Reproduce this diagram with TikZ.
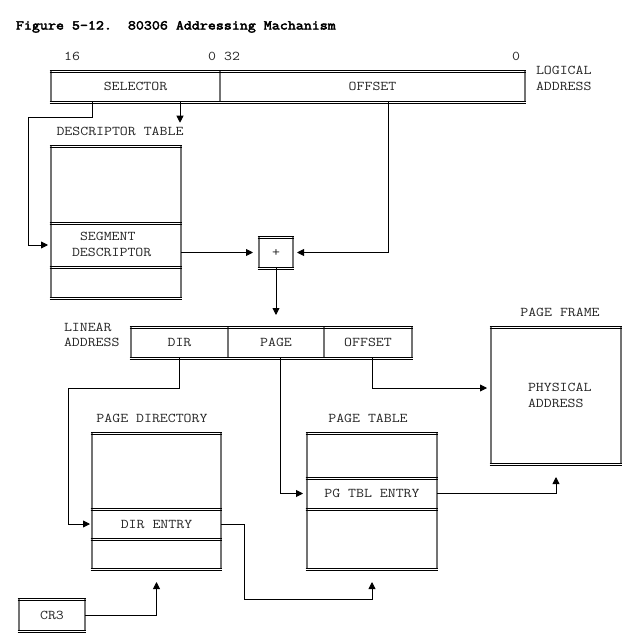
\documentclass[tikz,border=0pt]{standalone}
\usepackage{fontspec}
\newfontfamily\boxfont{Latin Modern Mono}[FakeStretch=1.15]
\newfontfamily\headfont{Latin Modern Mono}[FakeStretch=1.15, FakeBold=3.2]
\usetikzlibrary{arrows.meta}

\begin{document}
\begin{tikzpicture}[x=1pt, y=-1pt,
  every node/.style={font=\boxfont\fontsize{13.4}{15.3}\selectfont, text=black!85, inner sep=0pt, outer sep=0pt},
  cell/.style={draw=none, anchor=north west, minimum width=#1},
  cell/.default=100,
  label/.style={anchor=center},
  edgev/.style={draw=black!55, line width=2.8pt},
  edgeh/.style={draw=black, line width=0.8pt},
  wire/.style={draw=black, line width=0.9pt},
  arr/.style={wire, -{Triangle[length=7pt, width=7pt]}},
]
\fill[white] (0,0) rectangle (632,640);
\useasboundingbox (0,0) rectangle (632,640);

% title
\node[anchor=base west, font=\headfont\fontsize{13.5}{15.3}\selectfont, text=black] (title) at (16,29.5)
  {Figure 5-12.\ \ 80306 Addressing Machanism};

% bit positions
\node[label] (b16) at (72,56) {16};
\node[label] (b0a) at (212,56) {0};
\node[label] (b32) at (232,56) {32};
\node[label] (b0b) at (516,56) {0};

% logical address
\node[cell=169, minimum height=31] (sel) at (51,71) {SELECTOR};
\node[cell=305, minimum height=31] (off) at (220,71) {OFFSET};
\node[label, align=left, anchor=west] (logical) at (536,78.5) {LOGICAL\\ADDRESS};

% descriptor table
\node[label] (dtlabel) at (120,131) {DESCRIPTOR TABLE};
\node[cell=130, minimum height=77] (dt1) at (51,146) {};
\node[cell=130, minimum height=44] (seg) at (51,223) {};
\node[label, align=left, anchor=west] (segtext) at (72,244.5) {\hspace{8pt}SEGMENT\\DESCRIPTOR};
\node[cell=130, minimum height=31] (dt3) at (51,267) {};

% adder
\node[cell=34, minimum height=31] (plus) at (259,237) {+};

% linear address
\node[label, align=left, anchor=west] (linear) at (64,335) {LINEAR\\ADDRESS};
\node[cell=97, minimum height=31] (dir) at (131,327) {DIR};
\node[cell=96, minimum height=31] (page) at (228,327) {PAGE};
\node[cell=88, minimum height=31] (loff) at (324,327) {OFFSET};

% page directory
\node[label] (pdlabel) at (152,418) {PAGE DIRECTORY};
\node[cell=129, minimum height=76] (pd1) at (92,433) {};
\node[cell=129, minimum height=30] (dirent) at (92,509) {DIR ENTRY};
\node[cell=129, minimum height=30] (pd3) at (92,539) {};

% page table
\node[label] (ptlabel) at (368,418) {PAGE TABLE};
\node[cell=130, minimum height=45] (pt1) at (307,433) {};
\node[cell=130, minimum height=31] (ptent) at (307,478) {PG TBL ENTRY};
\node[cell=130, minimum height=60] (pt3) at (307,509) {};

% page frame
\node[label] (pflabel) at (560,312) {PAGE FRAME};
\node[cell=130, minimum height=137] (frame) at (491,327) {};
\node[label, align=left, anchor=west] (phys) at (528,395.5) {PHYSICAL\\ADDRESS};

% control register
\node[cell=66, minimum height=32] (cr3) at (19,599) {CR3};

% box borders: grey sides, paired thin rules top and bottom
\foreach \n in {sel,off,dt1,seg,dt3,plus,dir,page,loff,pd1,dirent,pd3,pt1,ptent,pt3,frame,cr3} {
  \draw[edgev] (\n.north west) -- (\n.south west) (\n.north east) -- (\n.south east);
  \draw[edgeh] ([xshift=-1.4pt, yshift=1.1pt]\n.north west) -- ([xshift=1.4pt, yshift=1.1pt]\n.north east)
               ([xshift=-1.4pt, yshift=-1.1pt]\n.north west) -- ([xshift=1.4pt, yshift=-1.1pt]\n.north east)
               ([xshift=-1.4pt, yshift=1.1pt]\n.south west) -- ([xshift=1.4pt, yshift=1.1pt]\n.south east)
               ([xshift=-1.4pt, yshift=-1.1pt]\n.south west) -- ([xshift=1.4pt, yshift=-1.1pt]\n.south east);
}

% connectors
\draw[arr, shorten >=3pt] ([xshift=41pt]sel.south west) -- ++(0,15) -| ([xshift=-23pt]seg.west) -- (seg.west);
\draw[arr] ([xshift=129pt]sel.south west) -- ([xshift=60pt, yshift=4pt]dtlabel.north);
\draw[arr, shorten >=6pt] (seg.east |- plus.west) -- (plus.west);
\draw[arr, shorten >=4pt] ([xshift=168pt]off.south west) |- (plus.east);
\draw[arr, shorten >=12pt] (plus.south) -- (page.north);
\draw[arr, shorten >=2pt] (dir.south) -- ++(0,30) -| ([xshift=-24pt]dirent.west) -- (dirent.west);
\draw[arr, shorten >=4pt] ([xshift=4pt]page.south) |- (ptent.west);
\draw[arr, shorten >=4pt] ([xshift=4pt]loff.south) |- ([yshift=7.5pt]frame.west);
\draw[arr, shorten >=13pt] (ptent.east) -| (frame.south);
\draw[arr, shorten >=13pt] (dirent.east) -- ++(23,0) |- ([yshift=-30pt]pt3.south) -- (pt3.south);
\draw[arr, shorten >=13pt] (cr3.east) -| (pd3.south);
\end{tikzpicture}
\end{document}
